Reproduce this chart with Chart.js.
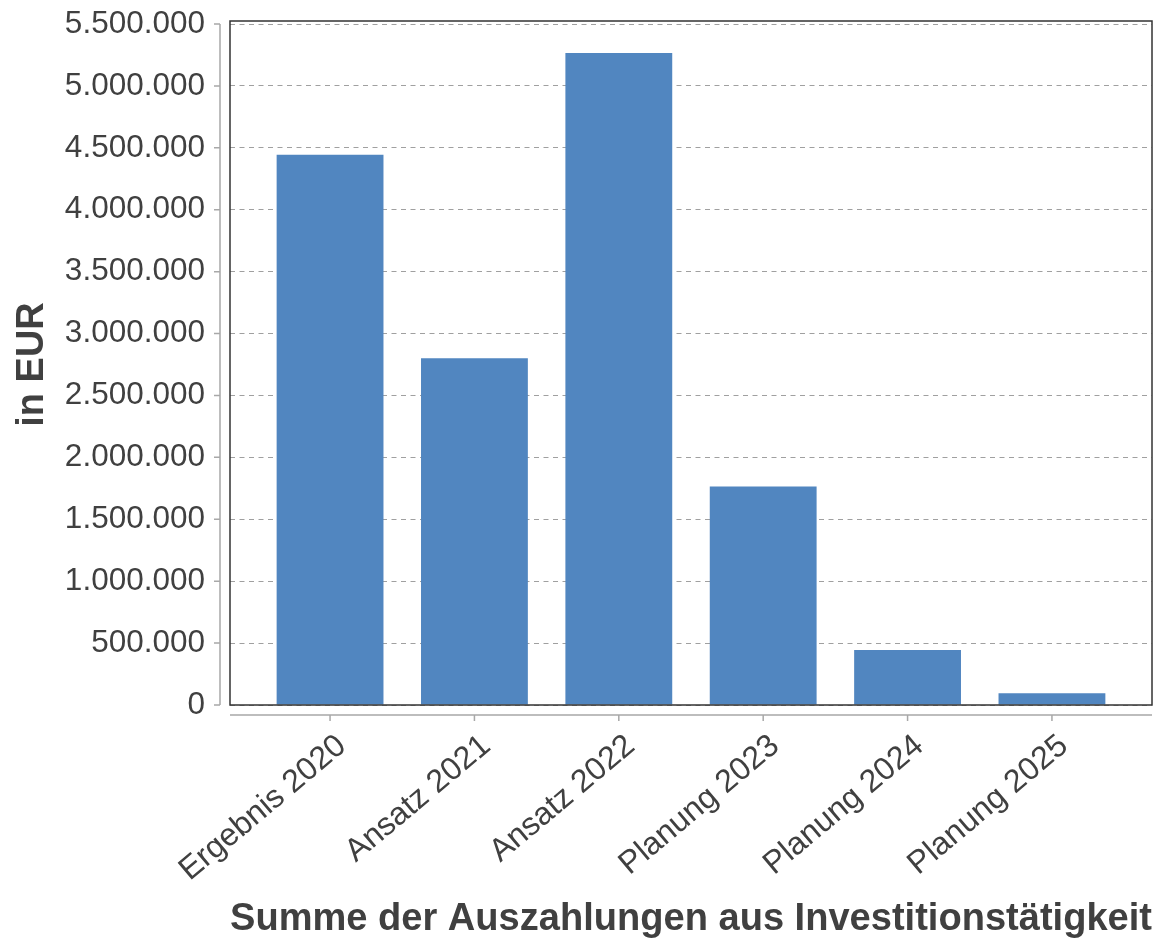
<!DOCTYPE html>
<html>
<head>
<meta charset="utf-8">
<script src="https://cdn.jsdelivr.net/npm/chart.js@4"></script>
<style>
html, body { margin: 0; padding: 0; background: #fff; }
#wrap { width: 1157px; height: 943px; }
</style>
</head>
<body>
<div id="wrap"><canvas id="chart"></canvas></div>
<script>
const categories = ['Ergebnis 2020', 'Ansatz 2021', 'Ansatz 2022', 'Planung 2023', 'Planung 2024', 'Planung 2025'];
const payouts = [4445000, 2800000, 5265000, 1765000, 445000, 95000];
const yTicks = [0, 500000, 1000000, 1500000, 2000000, 2500000, 3000000, 3500000, 4000000, 4500000, 5000000, 5500000];

const textColor = '#404040';
const fontFamily = "'Liberation Sans', Arial, sans-serif";

function formatDe(v) {
    return String(v).replace(/\B(?=(\d{3})+(?!\d))/g, '.');
}

// frame round the plot plus the detached axis lines with their tick marks
const frameAndAxes = {
    id: 'frameAndAxes',
    afterDatasetsDraw(chart) {
        const { ctx, chartArea: a, scales: { x, y } } = chart;
        ctx.save();
        ctx.strokeStyle = '#333';
        ctx.lineWidth = 1.5;
        ctx.strokeRect(a.left, a.top - 3, a.right - a.left, a.bottom - a.top + 3);

        ctx.strokeStyle = '#a8a8a8';
        ctx.lineWidth = 1.5;
        const ax = a.left - 10;
        ctx.beginPath();
        ctx.moveTo(ax, y.getPixelForValue(yTicks[yTicks.length - 1]));
        ctx.lineTo(ax, y.getPixelForValue(0));
        y.ticks.forEach(t => {
            const py = y.getPixelForValue(t.value);
            ctx.moveTo(ax, py);
            ctx.lineTo(ax - 6, py);
        });
        const ay = a.bottom + 10;
        ctx.moveTo(a.left, ay);
        ctx.lineTo(a.right, ay);
        x.ticks.forEach(t => {
            const px = x.getPixelForValue(t.value);
            ctx.moveTo(px, ay);
            ctx.lineTo(px, ay + 6);
        });
        ctx.stroke();
        ctx.restore();
    }
};

const ctx = document.getElementById('chart').getContext('2d');
new Chart(ctx, {
    type: 'bar',
    data: {
        datasets: [{
            data: payouts.map((v, i) => ({ x: i, y: v })),
            backgroundColor: '#5186c0',
            borderWidth: 0,
            categoryPercentage: 1,
            barPercentage: 0.74
        }]
    },
    plugins: [frameAndAxes],
    options: {
        responsive: true,
        maintainAspectRatio: false,
        animation: false,
        layout: { padding: { top: 24, right: 5, left: 0, bottom: 0 } },
        plugins: {
            legend: { display: false },
            tooltip: { enabled: false }
        },
        scales: {
            x: {
                type: 'linear',
                offset: false,
                min: -0.693,
                max: categories.length - 1 + 0.693,
                afterBuildTicks: scale => {
                    scale.ticks = categories.map((_, i) => ({ value: i }));
                },
                afterFit: scale => { scale.height = 238; },
                grid: { display: false },
                border: { display: false },
                ticks: {
                    autoSkip: false,
                    minRotation: 40,
                    maxRotation: 40,
                    padding: 14,
                    labelOffset: 12,
                    color: textColor,
                    font: { family: fontFamily, size: 32 },
                    callback: v => categories[v]
                },
                title: {
                    display: true,
                    text: 'Summe der Auszahlungen aus Investitionstätigkeit',
                    color: textColor,
                    font: { family: fontFamily, size: 38.8, weight: 'bold' },
                    padding: { top: 0, bottom: 0 }
                }
            },
            y: {
                min: 0,
                max: yTicks[yTicks.length - 1],
                afterBuildTicks: scale => {
                    scale.ticks = yTicks.map(v => ({ value: v }));
                },
                afterFit: scale => { scale.width = 230; },
                border: { display: false, dash: [5, 4.5] },
                grid: {
                    drawTicks: true,
                    tickLength: 25,
                    tickColor: 'rgba(0,0,0,0)',
                    color: '#a0a0a0',
                    lineWidth: 1
                },
                ticks: {
                    padding: 0,
                    color: textColor,
                    font: { family: fontFamily, size: 31.5 },
                    callback: v => formatDe(v)
                },
                title: {
                    display: true,
                    text: 'in EUR',
                    color: textColor,
                    font: { family: fontFamily, size: 38, weight: 'bold' },
                    padding: { top: 10, bottom: 0 }
                }
            }
        }
    }
});
</script>
</body>
</html>
